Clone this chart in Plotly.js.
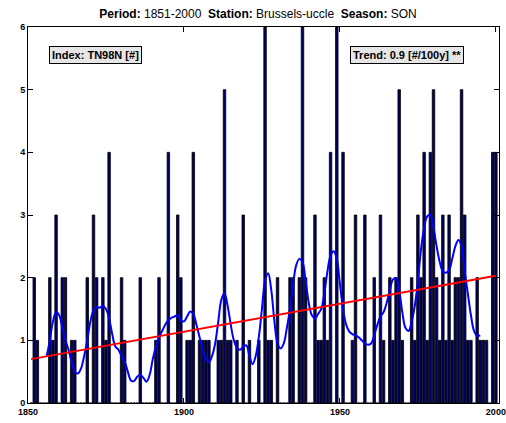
<!DOCTYPE html>
<html>
<head>
<meta charset="utf-8">
<script src="https://cdn.plot.ly/plotly-3.0.1.min.js"></script>
<style>
html,body{margin:0;padding:0;background:#fff;}
#chart{width:506px;height:423px;}
</style>
</head>
<body>
<div id="chart"></div>
<script>
// Yearly counts of TN98N, autumn (SON), Brussels-Uccle, 1851-2000
var firstYear = 1851;
var counts = [
  0,2,1,0,0,0,2,1,3,0,   // 1851-1860
  2,2,0,1,1,0,0,0,2,0,   // 1861-1870
  3,2,0,2,1,4,0,0,0,2,   // 1871-1880
  1,0,0,0,0,2,0,0,0,0,   // 1881-1890
  1,2,0,0,4,0,0,3,2,0,   // 1891-1900
  1,1,4,0,1,1,1,1,0,0,   // 1901-1910
  1,1,5,1,1,0,1,0,3,0,   // 1911-1920
  1,0,0,1,0,6,1,1,0,2,   // 1921-1930
  0,0,0,2,2,0,2,6,2,0,   // 1931-1940
  0,3,1,1,2,1,4,0,6,0,   // 1941-1950
  4,0,0,1,3,0,0,3,0,0,   // 1951-1960
  2,0,3,1,0,2,1,2,5,1,   // 1961-1970
  0,0,2,1,3,2,4,1,4,5,   // 1971-1980
  2,1,3,1,3,1,2,2,5,3,   // 1981-1990
  1,1,0,2,1,1,1,0,4,4    // 1991-2000
];
// Smoothed curve (blue), 1856-1995
var smoothStart = 1856;
var smooth = [
  0.75,1.00,1.30,1.45,1.40,1.20,1.00,0.85,0.65,0.50,          // 1856-1865
  0.47,0.55,0.75,1.00,1.30,1.48,1.53,1.52,1.55,1.50,          // 1866-1875
  1.35,1.10,0.90,0.85,0.75,0.66,0.50,0.36,0.35,0.42,          // 1876-1885
  0.45,0.40,0.34,0.45,0.70,0.90,1.05,1.15,1.25,1.32,          // 1886-1895
  1.36,1.38,1.40,1.32,1.30,1.38,1.46,1.42,1.25,1.05,          // 1896-1905
  0.85,0.70,0.65,0.75,0.95,1.30,1.65,1.75,1.55,1.25,          // 1906-1915
  1.00,0.88,0.85,0.90,0.92,0.75,0.62,0.75,1.05,1.50,          // 1916-1925
  1.95,2.07,1.80,1.30,0.95,0.87,0.95,1.20,1.50,1.90,          // 1926-1935
  2.20,2.30,2.25,1.95,1.60,1.40,1.35,1.42,1.50,1.75,          // 1936-1945
  2.10,2.35,2.42,2.30,1.90,1.50,1.25,1.14,1.10,1.08,          // 1946-1955
  1.05,1.00,0.95,0.93,0.95,1.08,1.25,1.38,1.45,1.60,          // 1956-1965
  1.80,1.97,1.99,1.80,1.45,1.20,1.15,1.30,1.55,1.95,          // 1966-1975
  2.45,2.80,2.98,3.00,2.80,2.50,2.25,2.10,2.08,2.12,          // 1976-1985
  2.30,2.50,2.60,2.50,2.10,1.75,1.40,1.15,1.07,1.08           // 1986-1995
];
// Linear trend (red) end points
var trendYears = [1851, 2000];
var trendVals = [0.70, 2.03];

var xTicks = [1850, 1900, 1950, 2000];
var yTicks = [0, 1, 2, 3, 4, 5, 6];

var years = counts.map(function(_, i){ return firstYear + i; });
var smoothYears = smooth.map(function(_, i){ return smoothStart + i; });

var font = 'Liberation Sans, Arial, Helvetica, sans-serif';

var traces = [
  {type:'bar', x:years, y:counts, width:0.8,
   marker:{color:'#00005e', line:{color:'#000000', width:0.8}},
   hoverinfo:'x+y', showlegend:false},
  {type:'scatter', mode:'lines', x:smoothYears, y:smooth,
   line:{color:'#0000ff', width:2, shape:'spline', smoothing:1}, showlegend:false},
  {type:'scatter', mode:'lines', x:trendYears, y:trendVals,
   line:{color:'#ff0000', width:2}, showlegend:false}
];

var layout = {
  width:506, height:423,
  margin:{l:28, r:7, t:27, b:20, pad:0},
  paper_bgcolor:'#ffffff', plot_bgcolor:'#ffffff',
  bargap:0,
  font:{family:font, size:9, color:'#000'},
  title:{text:'<b>Period:</b> 1851-2000&nbsp;&nbsp;<b>Station:</b> Brussels-uccle&nbsp;&nbsp;<b>Season:</b> SON',
         font:{family:font, size:12, color:'#000'}, x:0.51, xanchor:'center', y:0.978, yanchor:'top'},
  xaxis:{range:[1850, 2001], tickvals:xTicks, ticktext:xTicks.map(function(v){return '<b>'+v+'</b>';}),
         ticks:'inside', ticklen:5, tickwidth:1, tickcolor:'#000',
         showline:true, linecolor:'#000', linewidth:1, mirror:'ticks',
         showgrid:false, zeroline:false, tickfont:{family:font, size:9, color:'#000'}},
  yaxis:{range:[0, 6], tickvals:yTicks, ticktext:yTicks.map(function(v){return '<b>'+v+'</b>';}),
         ticks:'inside', ticklen:5, tickwidth:1, tickcolor:'#000',
         showline:true, linecolor:'#000', linewidth:1, mirror:'ticks',
         showgrid:false, zeroline:false, tickfont:{family:font, size:9, color:'#000'}},
  annotations:[
    {xref:'paper', yref:'paper', x:0.144, y:0.926, xanchor:'center', yanchor:'middle',
     text:'<b>Index: TN98N [#]</b>', showarrow:false,
     font:{family:font, size:11, color:'#000'},
     bgcolor:'#e6e6e6', bordercolor:'#000', borderwidth:1, borderpad:2},
    {xref:'paper', yref:'paper', x:0.805, y:0.926, xanchor:'center', yanchor:'middle',
     text:'<b>Trend: 0.9 [#/100y] **</b>', showarrow:false,
     font:{family:font, size:11, color:'#000'},
     bgcolor:'#e6e6e6', bordercolor:'#000', borderwidth:1, borderpad:2}
  ]
};

Plotly.newPlot('chart', traces, layout, {staticPlot:true, displayModeBar:false});
</script>
</body>
</html>
